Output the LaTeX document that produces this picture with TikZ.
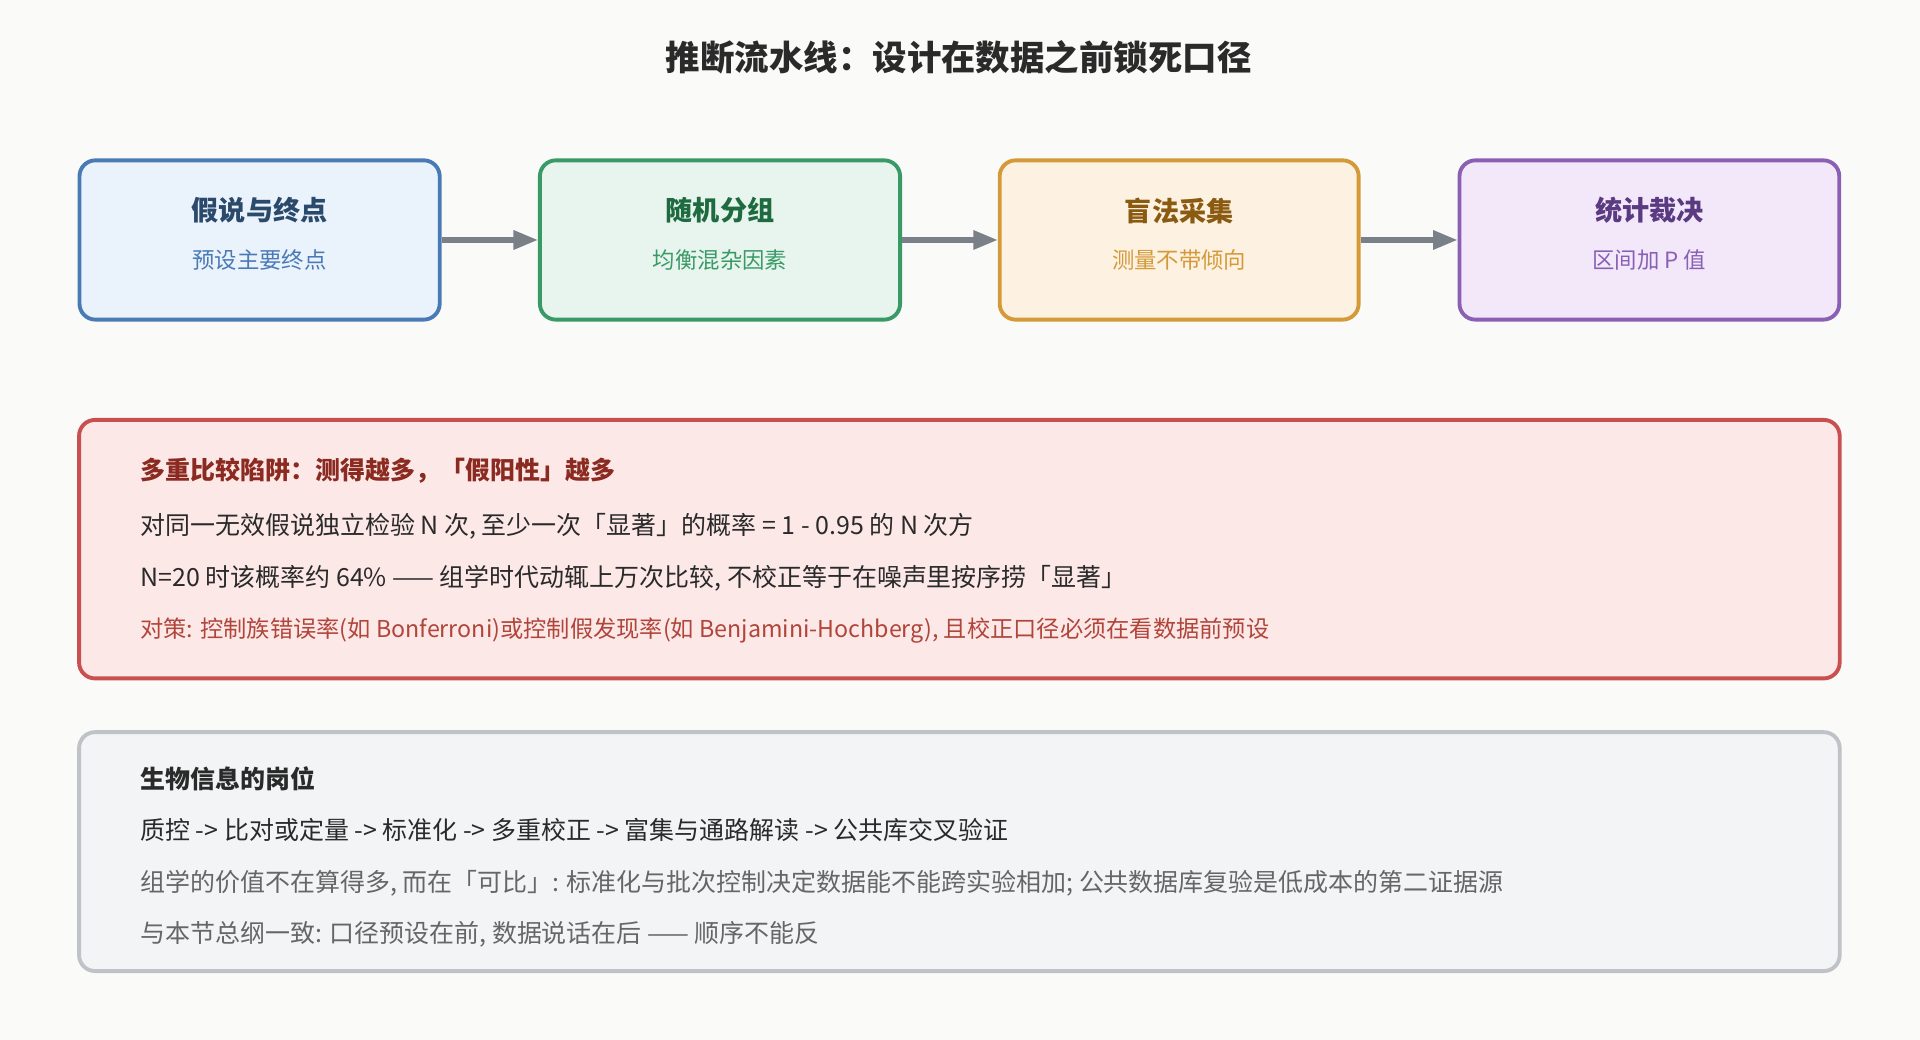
\documentclass[tikz,border=0pt]{standalone}
\usepackage{fontspec}
\setmainfont{Noto Sans CJK SC}
\usetikzlibrary{positioning,arrows.meta}
\definecolor{bgc}{HTML}{FAFAF8}
\definecolor{inkc}{HTML}{2A2A2A}
\definecolor{arrc}{HTML}{7A8088}
\definecolor{bluel}{HTML}{4A7AB5}\definecolor{bluef}{HTML}{EAF2FC}\definecolor{bluet}{HTML}{2B4A6B}
\definecolor{greenl}{HTML}{3A9A66}\definecolor{greenf}{HTML}{E8F5EE}\definecolor{greent}{HTML}{1E6B40}
\definecolor{orangel}{HTML}{D49A3A}\definecolor{orangef}{HTML}{FDF2E2}\definecolor{oranget}{HTML}{8A5A10}
\definecolor{purplel}{HTML}{8A60B5}\definecolor{purplef}{HTML}{F3E8FA}\definecolor{purplet}{HTML}{5A3A80}
\definecolor{redl}{HTML}{C85050}\definecolor{redf}{HTML}{FDE8E8}\definecolor{redt}{HTML}{8B2A20}\definecolor{reds}{HTML}{B0453A}
\definecolor{grayl}{HTML}{BFC3C8}\definecolor{grayf}{HTML}{F3F4F6}\definecolor{grayt}{HTML}{666666}
\begin{document}
\begin{tikzpicture}[x=0.01cm,y=0.01cm,
    stagebox/.style={rectangle, draw, rounded corners=0.13cm, line width=0.9pt, minimum height=1.3cm, inner sep=0pt},
    panel/.style={rectangle, draw, rounded corners=0.13cm, line width=0.9pt, inner sep=0pt},
    head/.style={font=\fontsize{6.3pt}{7pt}\selectfont\bfseries},
    sub/.style={font=\fontsize{5.2pt}{6pt}\selectfont},
    textline/.style={anchor=west, font=\fontsize{5.8pt}{7pt}\selectfont, inner sep=0pt},
    flow/.style={-{Triangle[length=0.2cm,width=0.15cm]}, draw=arrc, line width=1.2pt}
]
    \fill[bgc] (0,0) rectangle (1568,849);
    \useasboundingbox (0,0) rectangle (1568,849);

    \node[font=\fontsize{8pt}{9pt}\selectfont\bfseries, text=inkc] (title) at (783,802) {推断流水线：设计在数据之前锁死口径};

    % Pipeline steps
    \node[stagebox, draw=bluel, fill=bluef, minimum width=2.94cm] (hypo) at (212,653) {};
    \node[stagebox, draw=greenl, fill=greenf, minimum width=2.94cm] (rand) at (588,653) {};
    \node[stagebox, draw=orangel, fill=orangef, minimum width=2.93cm] (blind) at (963,653) {};
    \node[stagebox, draw=purplel, fill=purplef, minimum width=3.10cm] (stat) at (1347,653) {};

    \node[head, text=bluet] (hypoh) at (212,677) {假说与终点};
    \node[sub, text=bluel] (hypos) at (212,637) {预设主要终点};
    \node[head, text=greent] (randh) at (588,677) {随机分组};
    \node[sub, text=greenl] (rands) at (588,637) {均衡混杂因素};
    \node[head, text=oranget] (blindh) at (963,677) {盲法采集};
    \node[sub, text=orangel] (blinds) at (963,637) {测量不带倾向};
    \node[head, text=purplet] (stath) at (1347,677) {统计裁决};
    \node[sub, text=purplel] (stats) at (1347,637) {区间加 P 值};

    \draw[flow] (hypo) -- (rand);
    \draw[flow] (rand) -- (blind);
    \draw[flow] (blind) -- (stat);

    % Multiple comparisons
    \node[panel, draw=redl, fill=redf, minimum width=14.37cm, minimum height=2.11cm] (trap) at (783.5,400.5) {};
    \node[textline, font=\fontsize{5.8pt}{7pt}\selectfont\bfseries, text=redt] (trap1) at (114,465) {多重比较陷阱：测得越多，「假阳性」越多};
    \node[textline, text=inkc] (trap2) at (114,419) {对同一无效假说独立检验 N 次, 至少一次「显著」的概率 = 1 - 0.95 的 N 次方};
    \node[textline, text=inkc] (trap3) at (114,377) {N=20 时该概率约 64\% —— 组学时代动辄上万次比较, 不校正等于在噪声里按序捞「显著」};
    \node[textline, font=\fontsize{5.4pt}{7pt}\selectfont, text=reds] (trap4) at (114,334) {对策: 控制族错误率(如 Bonferroni)或控制假发现率(如 Benjamini-Hochberg), 且校正口径必须在看数据前预设};

    % Bioinformatics
    \node[panel, draw=grayl, fill=grayf, minimum width=14.37cm, minimum height=1.95cm] (bio) at (783.5,153.5) {};
    \node[textline, font=\fontsize{5.8pt}{7pt}\selectfont\bfseries, text=inkc] (bio1) at (114,213) {生物信息的岗位};
    \node[textline, text=inkc] (bio2) at (114,171) {质控 -> 比对或定量 -> 标准化 -> 多重校正 -> 富集与通路解读 -> 公共库交叉验证};
    \node[textline, text=grayt] (bio3) at (114,128) {组学的价值不在算得多, 而在「可比」: 标准化与批次控制决定数据能不能跨实验相加; 公共数据库复验是低成本的第二证据源};
    \node[textline, text=grayt] (bio4) at (114,86) {与本节总纲一致: 口径预设在前, 数据说话在后 —— 顺序不能反};
\end{tikzpicture}
\end{document}
